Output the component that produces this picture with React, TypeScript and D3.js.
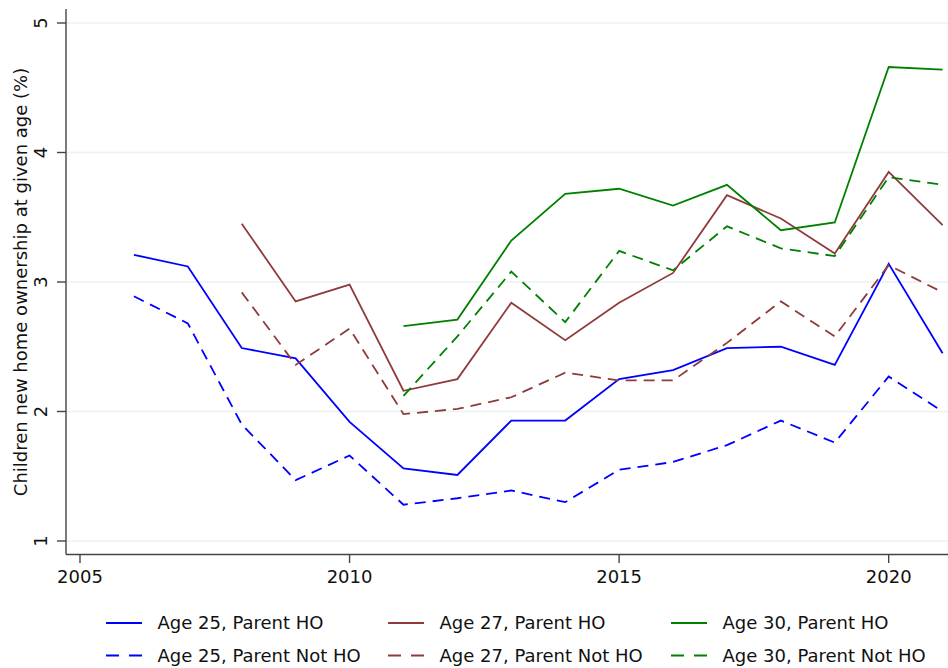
import React, { useEffect, useRef } from 'react';
import * as d3 from 'd3';

// Data
const years25 = [2006, 2007, 2008, 2009, 2010, 2011, 2012, 2013, 2014, 2015, 2016, 2017, 2018, 2019, 2020, 2021];
const age25ParentHO = [3.21, 3.12, 2.49, 2.41, 1.92, 1.56, 1.51, 1.93, 1.93, 2.25, 2.32, 2.49, 2.50, 2.36, 3.14, 2.45];
const age25ParentNotHO = [2.89, 2.68, 1.90, 1.47, 1.66, 1.28, 1.33, 1.39, 1.30, 1.55, 1.61, 1.74, 1.93, 1.76, 2.27, 2.00];

const years27 = [2008, 2009, 2010, 2011, 2012, 2013, 2014, 2015, 2016, 2017, 2018, 2019, 2020, 2021];
const age27ParentHO = [3.45, 2.85, 2.98, 2.16, 2.25, 2.84, 2.55, 2.84, 3.07, 3.67, 3.49, 3.22, 3.85, 3.44];
const age27ParentNotHO = [2.92, 2.36, 2.64, 1.98, 2.02, 2.11, 2.30, 2.24, 2.24, 2.53, 2.85, 2.58, 3.13, 2.92];

const years30 = [2011, 2012, 2013, 2014, 2015, 2016, 2017, 2018, 2019, 2020, 2021];
const age30ParentHO = [2.66, 2.71, 3.32, 3.68, 3.72, 3.59, 3.75, 3.40, 3.46, 4.66, 4.64];
const age30ParentNotHO = [2.12, 2.58, 3.08, 2.69, 3.24, 3.09, 3.43, 3.26, 3.20, 3.81, 3.75];

const xTicks = [2005, 2010, 2015, 2020];
const yTicks = [1, 2, 3, 4, 5];

const BLUE = '#0000ff';
const MAROON = '#8f3b3b';
const GREEN = '#008000';
const DASH = '11,7';

interface Series {
  label: string;
  years: number[];
  values: number[];
  color: string;
  dashed: boolean;
}

const series: Series[] = [
  { label: 'Age 25, Parent HO', years: years25, values: age25ParentHO, color: BLUE, dashed: false },
  { label: 'Age 25, Parent Not HO', years: years25, values: age25ParentNotHO, color: BLUE, dashed: true },
  { label: 'Age 27, Parent HO', years: years27, values: age27ParentHO, color: MAROON, dashed: false },
  { label: 'Age 27, Parent Not HO', years: years27, values: age27ParentNotHO, color: MAROON, dashed: true },
  { label: 'Age 30, Parent HO', years: years30, values: age30ParentHO, color: GREEN, dashed: false },
  { label: 'Age 30, Parent Not HO', years: years30, values: age30ParentNotHO, color: GREEN, dashed: true },
];

const WIDTH = 948;
const HEIGHT = 668;
const FONT = '"DejaVu Sans", sans-serif';

const App: React.FC = () => {
  const svgRef = useRef<SVGSVGElement>(null);

  useEffect(() => {
    document.body.style.margin = '0';
    if (!svgRef.current) return;
    const svg = d3.select(svgRef.current);
    svg.selectAll('*').remove();

    const left = 66;
    const bottom = 554.5;
    const x = d3.scaleLinear().domain([2005, 2021]).range([80, 942.6]);
    const y = d3.scaleLinear().domain([1, 5]).range([541, 23]);

    // Gridlines
    svg.append('g')
      .selectAll('line')
      .data(yTicks)
      .enter().append('line')
      .attr('x1', left)
      .attr('x2', WIDTH)
      .attr('y1', d => y(d))
      .attr('y2', d => y(d))
      .attr('stroke', '#eaf2f3')
      .attr('stroke-width', 1.6);

    // Series
    const line = d3.line<[number, number]>()
      .x(d => x(d[0]))
      .y(d => y(d[1]));

    series.forEach(s => {
      const pts: [number, number][] = s.years.map((yr, i) => [yr, s.values[i]]);
      svg.append('path')
        .attr('d', line(pts))
        .attr('fill', 'none')
        .attr('stroke', s.color)
        .attr('stroke-width', 1.8)
        .attr('stroke-dasharray', s.dashed ? DASH : null);
    });

    // Y axis
    const yAxis = svg.append('g');
    yAxis.append('line')
      .attr('x1', left).attr('x2', left)
      .attr('y1', 9).attr('y2', bottom)
      .attr('stroke', '#444').attr('stroke-width', 1.4);
    yAxis.selectAll('.ytick')
      .data(yTicks)
      .enter().append('line')
      .attr('x1', 57).attr('x2', left)
      .attr('y1', d => y(d)).attr('y2', d => y(d))
      .attr('stroke', '#444').attr('stroke-width', 1.4);
    yAxis.selectAll('.ylab')
      .data(yTicks)
      .enter().append('text')
      .attr('transform', d => `translate(47,${y(d)}) rotate(-90)`)
      .attr('text-anchor', 'middle')
      .style('font-family', FONT)
      .style('font-size', '18px')
      .style('fill', '#111')
      .text(d => d);

    svg.append('text')
      .attr('transform', `translate(26.5,${(y(1) + y(5)) / 2}) rotate(-90)`)
      .attr('text-anchor', 'middle')
      .style('font-family', FONT)
      .style('font-size', '18px')
      .style('fill', '#111')
      .text('Children new home ownership at given age (%)');

    // X axis
    const xAxis = svg.append('g');
    xAxis.append('line')
      .attr('x1', left).attr('x2', WIDTH)
      .attr('y1', bottom).attr('y2', bottom)
      .attr('stroke', '#444').attr('stroke-width', 1.4);
    xAxis.selectAll('.xtick')
      .data(xTicks)
      .enter().append('line')
      .attr('x1', d => x(d)).attr('x2', d => x(d))
      .attr('y1', bottom).attr('y2', 563)
      .attr('stroke', '#444').attr('stroke-width', 1.4);
    xAxis.selectAll('.xlab')
      .data(xTicks)
      .enter().append('text')
      .attr('x', d => x(d))
      .attr('y', 582.5)
      .attr('text-anchor', 'middle')
      .style('font-family', FONT)
      .style('font-size', '18px')
      .style('fill', '#111')
      .text(d => d);

    // Legend: 3 columns x 2 rows, column-major by age
    const colX = [106, 388, 671];
    const rowY = [623, 655.5];
    const legend = svg.append('g');
    series.forEach((s, i) => {
      const cx = colX[Math.floor(i / 2)];
      const cy = rowY[i % 2];
      legend.append('line')
        .attr('x1', cx).attr('x2', cx + 36)
        .attr('y1', cy).attr('y2', cy)
        .attr('stroke', s.color)
        .attr('stroke-width', 1.8)
        .attr('stroke-dasharray', s.dashed ? '13,10' : null);
      legend.append('text')
        .attr('x', cx + 51.5)
        .attr('y', cy)
        .attr('dy', '0.36em')
        .style('font-family', FONT)
        .style('font-size', '18px')
        .style('fill', '#111')
        .text(s.label);
    });
  }, []);

  return <svg ref={svgRef} width={WIDTH} height={HEIGHT} style={{ display: 'block', background: '#fff' }} />;
};

export default App;
